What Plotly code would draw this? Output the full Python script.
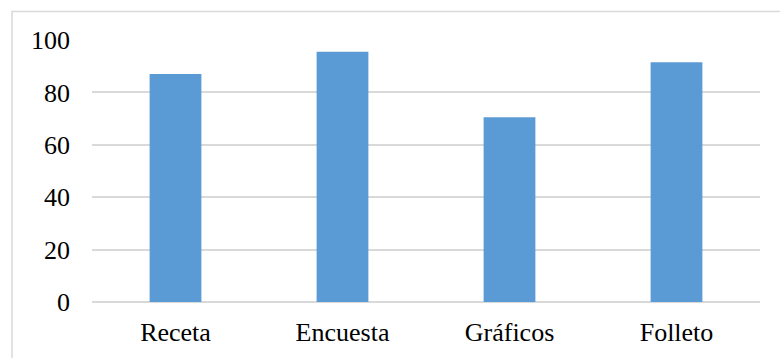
import plotly.graph_objects as go

categories = ["Receta", "Encuesta", "Gráficos", "Folleto"]
values = [87, 95.5, 70.5, 91.5]
y_ticks = [0, 20, 40, 60, 80, 100]

L, R, T, B = 92, 20, 40, 56
W, H = 780, 358
pw, ph = W - L - R, H - T - B

def px(x):
    return (x - L) / pw

def py(y):
    return (H - B - y) / ph

FONT = "Liberation Serif"

fig = go.Figure(go.Bar(x=categories, y=values, marker_color="#5B9BD5",
                       marker_line_width=0))

fig.update_layout(
    width=W, height=H,
    margin=dict(l=L, r=R, t=T, b=B),
    paper_bgcolor="white", plot_bgcolor="white",
    bargap=0.69,
    showlegend=False,
    font=dict(family=FONT, size=26, color="#000000"),
    xaxis=dict(showgrid=False, showline=False, ticks="", ticklabelstandoff=12,
               tickfont=dict(family=FONT, size=26, color="#000000")),
    yaxis=dict(range=[0, 100], tickvals=y_ticks, showgrid=True,
               gridcolor="#d9d9d9", gridwidth=2, zeroline=True,
               zerolinecolor="#d9d9d9", zerolinewidth=2, showline=False,
               ticks="", ticklabelstandoff=21,
               tickfont=dict(family=FONT, size=26, color="#000000")),
    shapes=[dict(type="rect", xref="paper", yref="paper",
                 x0=px(12), x1=px(790), y0=py(11.5), y1=py(370),
                 line=dict(color="#d9d9d9", width=1.5), layer="below")],
)

fig.write_html("out.html")
